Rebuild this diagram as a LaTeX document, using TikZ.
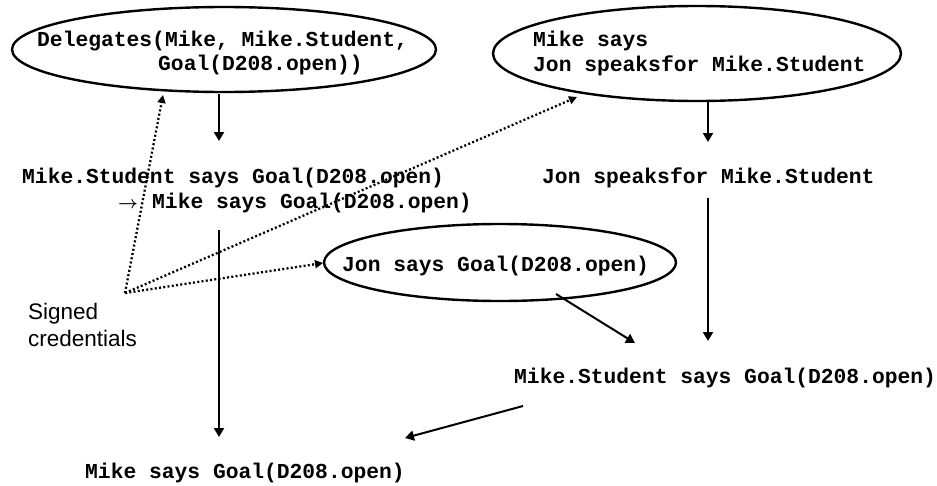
\documentclass[tikz,border=0pt]{standalone}
\usepackage{fontspec}
\setmainfont{Liberation Sans}
\setmonofont{Liberation Mono}
\usetikzlibrary{arrows.meta,shapes.geometric}

\begin{document}
\begin{tikzpicture}[x=1pt,y=-1pt,
  ell/.style={draw, line width=2.4pt, ellipse, inner sep=0pt},
  stmt/.style={anchor=base west, inner sep=0pt,
    font=\fontsize{21.3}{24}\selectfont\ttfamily\bfseries},
  infer/.style={line width=2pt, -{Triangle[length=9pt,width=10pt]}},
  cred/.style={line width=2.3pt, dash pattern=on 2pt off 2.3pt,
    -{Triangle[length=8pt,width=8pt]}},
]
\useasboundingbox (0,0) rectangle (937,485);

% signed credentials
\node[ell, minimum width=424pt, minimum height=85pt] (deleg) at (224,49.5) {};
\node[stmt] (delegA) at (37,46.7) {Delegates(Mike, Mike.Student,};
\node[stmt] (delegB) at (158,70) {Goal(D208.open))};

\node[ell, minimum width=408pt, minimum height=95pt] (jsf) at (697,53.5) {};
\node[stmt] (jsfA) at (533,46.7) {Mike says};
\node[stmt] (jsfB) at (533,71.7) {Jon speaksfor Mike.Student};

\node[ell, minimum width=352pt, minimum height=77pt] (jon) at (500,262.5) {};
\node[stmt] (jonT) at (342,271) {Jon says Goal(D208.open)};

% derived statements
\node[stmt] (imp) at (22,183.3) {Mike.Student says Goal(D208.open)};
\node[anchor=base west, inner sep=0pt, font=\fontsize{16}{18}\selectfont\boldmath]
  (impArrow) at (118,208.3) {$\rightarrow$};
\node[stmt] (impB) at (152,208.3) {Mike says Goal(D208.open)};
\node[stmt] (jsfC) at (542,183) {Jon speaksfor Mike.Student};
\node[stmt] (msg) at (514,383) {Mike.Student says Goal(D208.open)};
\node[stmt] (mg) at (85,478) {Mike says Goal(D208.open)};

\node[anchor=base west, inner sep=0pt, font=\fontsize{22.5}{27.6}\selectfont]
  (cred) at (28,319.3)
  {\begin{tabular}[t]{@{}l@{}}Signed\\credentials\end{tabular}};

% arrow end points
\coordinate (src) at (125,293);
\coordinate (tipDeleg) at (163,95);
\coordinate (tipJsf) at (577,97);
\coordinate (tipJon) at (323,263);

\coordinate (a1s) at (219,94);   \coordinate (a1e) at (219,141);
\coordinate (a2s) at (708,102);  \coordinate (a2e) at (708,142);
\coordinate (a3s) at (219,230);  \coordinate (a3e) at (219,437);
\coordinate (a4s) at (708,198);  \coordinate (a4e) at (708,341);
\coordinate (a5s) at (556,294);  \coordinate (a5e) at (635,343);
\coordinate (a6s) at (523,406);  \coordinate (a6e) at (405,438);

% credential pointers
\draw[cred] (src) -- (tipDeleg);
\draw[cred] (src) -- (tipJsf);
\draw[cred] (src) -- (tipJon);

% inference steps
\draw[infer] (a1s) -- (a1e);
\draw[infer] (a2s) -- (a2e);
\draw[infer] (a3s) -- (a3e);
\draw[infer] (a4s) -- (a4e);
\draw[infer] (a5s) -- (a5e);
\draw[infer] (a6s) -- (a6e);
\end{tikzpicture}
\end{document}
